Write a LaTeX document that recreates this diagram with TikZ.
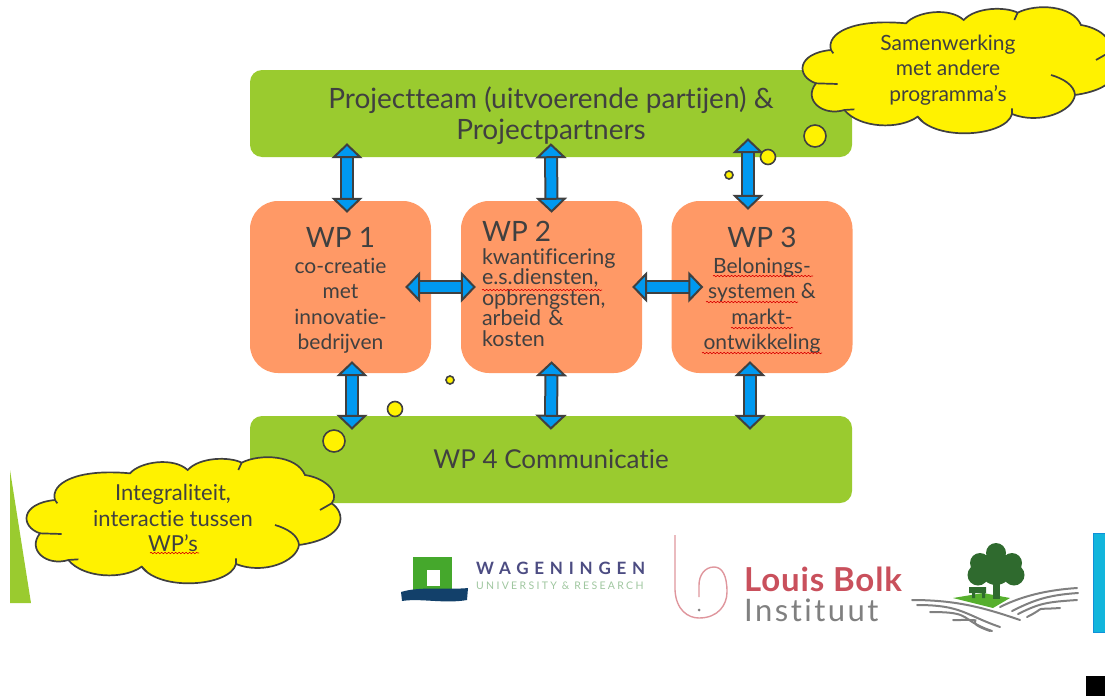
\documentclass[tikz,border=0pt]{standalone}
\usepackage{fontspec}
\setmainfont[Ligatures=NoCommon]{Lato}
\usetikzlibrary{arrows.meta, decorations.pathmorphing}
\definecolor{leafgreen}{HTML}{9ACB2F}
\definecolor{wporange}{HTML}{FF9966}
\definecolor{arrowblue}{HTML}{0099F0}
\definecolor{inkgrey}{HTML}{404040}
\definecolor{bolkred}{HTML}{C9505C}
\definecolor{treegreen}{HTML}{2F6A2E}
\definecolor{wurblue}{HTML}{12406A}
\definecolor{wurgreen}{HTML}{45A82C}
\definecolor{logocyan}{HTML}{12B5DC}
\definecolor{logoblue}{HTML}{1090D8}
\tikzset{
	teambox/.style = {rectangle, rounded corners=12pt, fill=leafgreen, minimum width=602pt, minimum height=87pt, align=center, text=inkgrey, font=\fontsize{26}{30}\selectfont},
	wpbox/.style = {rectangle, rounded corners=28pt, fill=wporange, minimum width=181pt, minimum height=172pt, text=inkgrey, font=\fontsize{21}{25.5}\selectfont, inner sep=0pt},
	line/.style = {draw=inkgrey, line width=2pt, double=arrowblue, double distance=10pt, {Triangle[width=31pt, length=15pt, fill=arrowblue, color=inkgrey, line width=2pt]}-{Triangle[width=31pt, length=15pt, fill=arrowblue, color=inkgrey, line width=2pt]}, shorten <=-12pt, shorten >=-12pt},
	bubble/.style = {circle, draw=inkgrey, line width=1.6pt, fill=yellow, inner sep=0pt},
	cloudtext/.style = {align=center, text=inkgrey, font=\fontsize{21}{25.5}\selectfont},
	spellwave/.style = {draw=red!85!black, line width=0.6pt, decorate, decoration={snake, amplitude=0.7pt, segment length=3.5pt}},
	hill/.style = {draw=gray, line width=2pt, line cap=round},
	plume/.pic = {
		\draw [inkgrey, line width=1.7pt, fill=yellow, scale=1/3] (165,240) .. controls (150,190) and (230,145) .. (390,160)
			.. controls (420,125) and (520,110) .. (563,150)
			.. controls (600,110) and (690,110) .. (725,128)
			.. controls (780,100) and (890,105) .. (915,165)
			.. controls (980,175) and (1020,220) .. (995,250)
			.. controls (1040,280) and (1040,355) .. (897,375)
			.. controls (890,425) and (790,465) .. (708,432)
			.. controls (690,500) and (480,515) .. (425,440)
			.. controls (370,480) and (250,475) .. (205,420)
			.. controls (140,440) and (80,390) .. (120,340)
			.. controls (60,320) and (60,250) .. (165,240) -- cycle;
		\draw [inkgrey, line width=1.7pt, scale=1/3] (120,340) -- (185,342) (205,420) -- (235,418) (425,440) -- (440,455) (708,432) -- (708,415)
			(897,375) .. controls (895,345) and (860,325) .. (825,315) (995,250) -- (960,270) (725,128) -- (715,150) (165,240) -- (172,250);
	}
}
\newcommand{\wphead}[1]{{\fontsize{28}{30}\selectfont\rule{0pt}{27pt}#1}}
\begin{document}
\begin{tikzpicture}[x=1pt, y=-1pt]
		\useasboundingbox (0,0) rectangle (1105,696);
		% vlakken
		\fill [leafgreen] (10,470) -- (31,603) -- (10,603) -- cycle;
		\node (team) [teambox, font=\fontsize{28}{30.5}\selectfont] at (551,113.5) {\rule{0pt}{26pt}Projectteam (uitvoerende partijen) \&\\ Projectpartners};
		\node (comm) [teambox] at (551,459.5) {WP 4 Communicatie};
		\node (wpone) [wpbox, align=center] at (340.5,287) {\wphead{WP 1}\\co-creatie\\met\\innovatie-\\bedrijven};
		\node (wptwo) [wpbox, align=left, text width=139pt, font=\fontsize{21.5}{25.5}\selectfont] at (551.5,287) {{\fontsize{28}{30}\selectfont WP 2}\\[-3pt]kwantificering\\[-5pt]e.s.diensten,\\[-5pt]opbrengsten,\\[-5pt]arbeid \&\\[-5pt]kosten\rule[-6pt]{0pt}{1pt}};
		\node (wpthree) [wpbox, align=center] at (762,287) {\wphead{WP 3}\\Belonings-\\systemen \&\\markt-\\ontwikkeling};

		% pijlen
		\path [line] ([xshift=-204pt, yshift=2pt]team.south) -- ([xshift=6.5pt]wpone.north);
		\path [line] ([yshift=2pt]team.south) -- (wptwo.north);
		\path [line] ([xshift=197pt, yshift=7pt]team.south) -- ([xshift=-14pt, yshift=3pt]wpthree.north);
		\path [line] ([xshift=11.5pt]wpone.south) -- ([xshift=-199pt, yshift=-2pt]comm.north);
		\path [line] (wptwo.south) -- ([yshift=-2pt]comm.north);
		\path [line] ([xshift=-12pt]wpthree.south) -- ([xshift=199pt, yshift=-2pt]comm.north);
		\path [line] ([xshift=-14pt]wpone.east) -- ([xshift=3pt]wptwo.west);
		\path [line] ([xshift=2pt]wptwo.east) -- ([xshift=20pt]wpthree.west);

		% bolletjes
		\node (dota) [bubble, minimum size=22pt] at (815,136) {};
		\node (dotb) [bubble, minimum size=15pt] at (768,157) {};
		\node (dotc) [bubble, minimum size=8pt] at (729,175) {};
		\node (dotd) [bubble, minimum size=15pt] at (395,409) {};
		\node (dote) [bubble, minimum size=22pt] at (334,441) {};
		\node (dotf) [bubble, minimum size=8pt] at (450,380) {};

		% wolkjes
		\pic at (776,-30) {plume};
		\pic at (0,420) {plume};
		\node (samen) [cloudtext] at (948,70) {Samenwerking\\met andere\\programma’s};
		\node (integr) [cloudtext, font=\fontsize{22}{25.5}\selectfont] at (173,518) {Integraliteit,\\interactie tussen\\WP’s};

		% rode kronkels
		\path [spellwave] (150,553) -- (199,553);
		\path [spellwave] (482,290) -- (602,290);
		\path [spellwave] (713,276) -- (813,276);
		\path [spellwave] (706,302) -- (798,302);
		\path [spellwave] (731,328) -- (793,328);
		\path [spellwave] (702,353) -- (822,353);

		% logo's
		\fill [wurgreen] (413,557) rectangle (452,590);
		\fill [white] (427,570) rectangle (440,586);
		\fill [wurblue] (401,592) .. controls (420,586) and (450,590) .. (468,588) -- (467,600) .. controls (445,604) and (420,598) .. (402,601) -- cycle;
		\node (wur) [anchor=west, inner sep=0pt, text=blue!30!black!70, font=\fontsize{17}{18}\selectfont\bfseries\addfontfeatures{LetterSpace=34}] at (476,568) {WAGENINGEN};
		\node (wursub) [anchor=west, inner sep=0pt, text=green!25!gray!60, font=\fontsize{10.5}{11}\selectfont\addfontfeatures{LetterSpace=22}] at (476,586) {UNIVERSITY \& RESEARCH};
		\draw [bolkred!60, line width=1.4pt] (675,535) -- (675,590) .. controls (676,610) and (688,618) .. (699,618) .. controls (718,618) and (727,605) .. (727,592) .. controls (727,575) and (722,567) .. (714,567) .. controls (705,567) and (699,575) .. (699,585) -- (699,597);
		\fill [gray] (699,610) circle [radius=1.5];
		\node (bolk) [anchor=west, inner sep=0pt, text=bolkred, font=\fontsize{33}{35}\selectfont\bfseries\addfontfeatures{LetterSpace=2.5}] at (744,579) {Louis Bolk};
		\node (instituut) [anchor=west, inner sep=0pt, text=gray, font=\fontsize{31}{34}\selectfont\addfontfeatures{LetterSpace=8}] at (744,610) {Instituut};
		% boom en heuvels
		\foreach \sx/\sy/\ex/\ey in {912/600/1020/620, 917/605/1000/627, 930/612/992/631, 953/620/990/631}
			\draw [hill] (\sx,\sy) .. controls (\sx+45,\sy) and (\ex-35,\ey-12) .. (\ex,\ey);
		\foreach \sx/\sy/\ex/\ey in {1000/607/1077/588, 1012/611/1078/593, 1018/614/1077/600, 1027/617/1060/608}
			\draw [hill] (\sx,\sy) .. controls (\sx+22,\sy-11) and (\ex-30,\ey+2) .. (\ex,\ey);
		\fill [wurgreen!80!leafgreen] (953,598) -- (983,593) -- (1010,598) -- (993,608) -- cycle;
		\fill [treegreen] (993,580) rectangle (1000,599);
		\fill [treegreen] (969,587) rectangle (986,593) (972,593) rectangle (975,598) (982,593) rectangle (985,598);
		\fill [treegreen] (996,553) circle [radius=10] (980,563) circle [radius=10] (1012,563) circle [radius=10] (978,575) circle [radius=10.5] (1014,575) circle [radius=10.5] (996,569) circle [radius=16];
		\filldraw [fill=logocyan, draw=logoblue, line width=1pt] (1093.5,533.5) rectangle (1106,632);
		\fill [black] (1086,676) rectangle (1105,696);
		\end{tikzpicture}
\end{document}
